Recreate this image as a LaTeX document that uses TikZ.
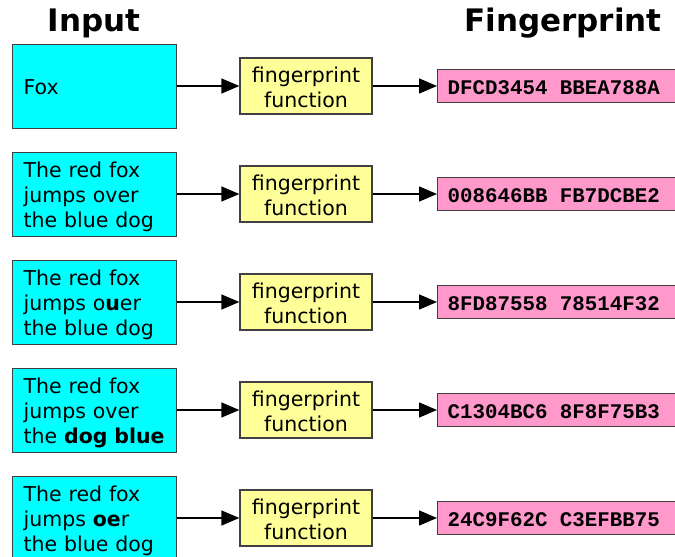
\documentclass[tikz,border=0pt]{standalone}
\usepackage{fontspec}
\setmainfont{DejaVu Sans}
\newfontfamily\hexfont{Liberation Mono}
\usetikzlibrary{arrows.meta}
\definecolor{incol}{HTML}{00FFFF}
\definecolor{fncol}{HTML}{FFFF99}
\definecolor{fpcol}{HTML}{FF99CC}
\definecolor{edge}{HTML}{404040}
\newcommand\lowered[2]{\raisebox{-#1}[\height][\depth]{#2}}
\newcommand\lines[1]{\lowered{2.5pt}{\begin{tabular}{@{}l@{}}#1\end{tabular}}}
\newcommand\fnlines{\lowered{3.5pt}{\begin{tabular}{@{}c@{}}fingerprint\\function\end{tabular}}}
\newcommand\hex[2]{\lowered{2pt}{#1\hspace{12.48pt}#2}}
\tikzset{
  inbox/.style={draw=edge, line width=1.3pt, fill=incol, rectangle, anchor=north west,
    text width=142pt, inner xsep=11pt, inner ysep=0pt, minimum height=84pt, align=left,
    font=\fontsize{20.5}{25}\selectfont},
  fnbox/.style={draw=edge, line width=1.3pt, fill=fncol, rectangle,
    minimum width=132pt, minimum height=56pt, inner sep=0pt,
    font=\fontsize{20.5}{25}\selectfont},
  fpbox/.style={draw=edge, line width=1.3pt, fill=fpcol, rectangle, anchor=west,
    text width=243pt, inner xsep=10pt, inner ysep=0pt, minimum height=33pt, align=left,
    font=\hexfont\bfseries\fontsize{20.8}{25}\selectfont},
  hdr/.style={font=\bfseries\fontsize{31}{36}\selectfont, anchor=base},
  conn/.style={line width=1.5pt, -{Triangle[length=18pt,width=15pt]}}
}
\begin{document}
\begin{tikzpicture}[x=1pt,y=-1pt]
\useasboundingbox (0,0) rectangle (675,557);
\clip (0,0) rectangle (675,557);
\node[hdr] (hin) at (94,31) {Input};
\node[hdr] (hfp) at (563,31) {Fingerprint};

\node[inbox] (i1) at (12,44) {\lines{Fox}};
\node[inbox] (i2) at (12,152) {\lines{The red fox\\jumps over\\the blue dog}};
\node[inbox] (i3) at (12,260) {\lines{The red fox\\jumps o\textbf{u}er\\the blue dog}};
\node[inbox] (i4) at (12,368) {\lines{The red fox\\jumps over\\the \textbf{dog blue}}};
\node[inbox] (i5) at (12,476) {\lines{The red fox\\jumps \textbf{oe}r\\the blue dog}};

\foreach \k/\y in {1/86,2/194,3/302,4/410,5/518}{
  \node[fnbox] (f\k) at (306,\y) {\fnlines};
}
\node[fpbox] (p1) at (437,86) {\hex{DFCD3454}{BBEA788A}};
\node[fpbox] (p2) at (437,194) {\hex{008646BB}{FB7DCBE2}};
\node[fpbox] (p3) at (437,302) {\hex{8FD87558}{78514F32}};
\node[fpbox] (p4) at (437,410) {\hex{C1304BC6}{8F8F75B3}};
\node[fpbox] (p5) at (437,518) {\hex{24C9F62C}{C3EFBB75}};

\foreach \k in {1,...,5}{
  \draw[conn] (i\k.east |- f\k.west) -- (f\k.west);
  \draw[conn] (f\k.east) -- (p\k.west);
}
\end{tikzpicture}
\end{document}
